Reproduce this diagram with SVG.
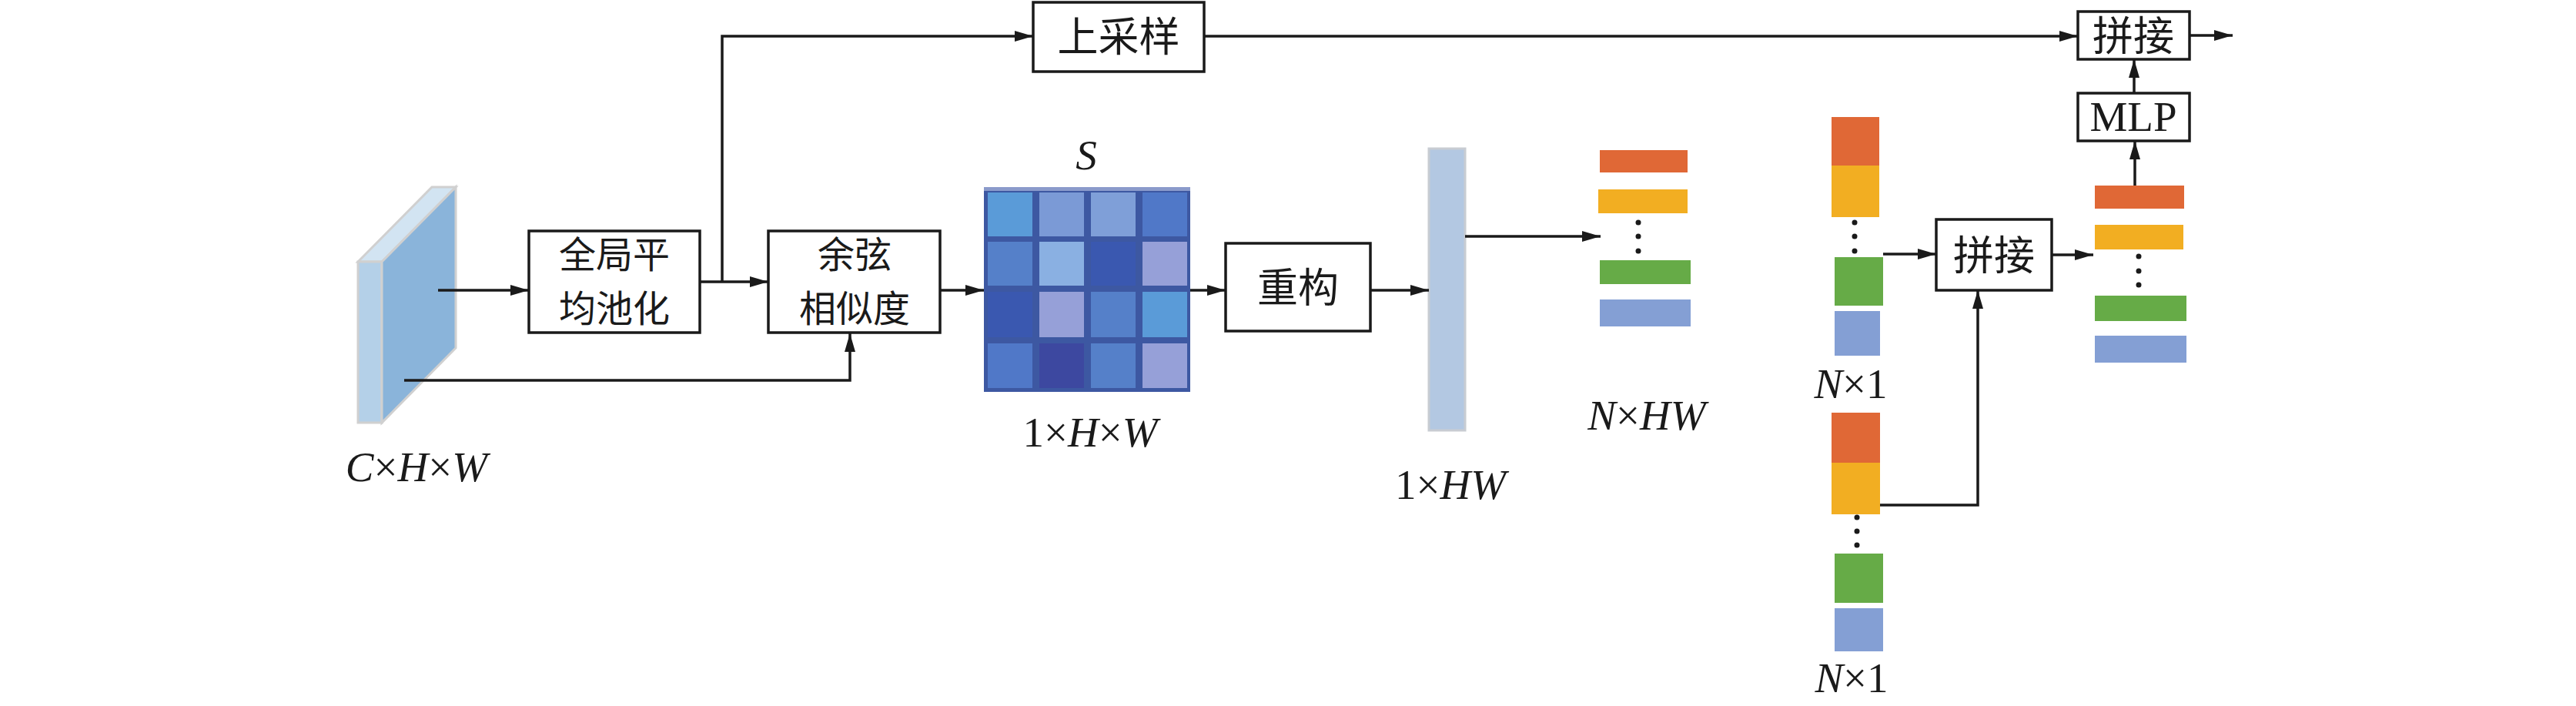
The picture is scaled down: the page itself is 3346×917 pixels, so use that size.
<svg xmlns="http://www.w3.org/2000/svg" width="3346" height="917" viewBox="0 0 3346 917">
<defs>
<marker id="ah" markerUnits="userSpaceOnUse" markerWidth="24" markerHeight="14" refX="24" refY="7" orient="auto"><path d="M0,0 L24,7 L0,14 z" fill="#1a1a1a"/></marker>
<style>
.box{fill:#fff;stroke:#1a1a1a;stroke-width:3.5}
.zh{font-family:"Noto Sans CJK SC",sans-serif;font-size:53px;fill:#1a1a1a;text-anchor:middle}
.zh2{font-family:"Noto Sans CJK SC",sans-serif;font-size:48px;fill:#1a1a1a;text-anchor:middle}
.lt{font-family:"Liberation Serif",serif;font-size:55px;fill:#1a1a1a;text-anchor:middle}
.it{font-style:italic}
.arr{fill:none;stroke:#1a1a1a;stroke-width:3.5;marker-end:url(#ah)}
.o{fill:#e06836}.y{fill:#f2ae22}.g{fill:#66ab47}.b{fill:#849fd4}
.dot{fill:#1a1a1a}
</style>
</defs>
<rect width="3346" height="917" fill="#fff"/>

<g id="feature-map">
<polygon points="465,340 561,243 592,243 496,340" fill="#d2e4f2" stroke="#d0d0d0" stroke-width="3"/>
<rect x="465" y="340" width="31" height="209" fill="#b4d0e8" stroke="#d0d0d0" stroke-width="3"/>
<polygon points="496,340 592,243 592,452 496,549" fill="#8ab4da" stroke="#d0d0d0" stroke-width="3"/>
<text class="lt" x="541" y="625"><tspan class="it">C</tspan>×<tspan class="it">H</tspan>×<tspan class="it">W</tspan></text>
</g>

<g id="gap">
<rect class="box" x="687" y="300" width="222" height="132"/>
<text class="zh2" x="798" y="348">全局平</text>
<text class="zh2" x="798" y="418">均池化</text>
</g>

<g id="cosine">
<rect class="box" x="998" y="300" width="223" height="132"/>
<text class="zh2" x="1110" y="348">余弦</text>
<text class="zh2" x="1110" y="418">相似度</text>
</g>

<g id="upsample">
<rect class="box" x="1342" y="3" width="222" height="90"/>
<text class="zh" x="1453" y="67">上采样</text>
</g>

<g id="matrix-s">
<text class="lt it" x="1411" y="220">S</text>
<rect x="1278" y="243" width="268" height="266" fill="#3d58a2"/>
<rect x="1278" y="243" width="268" height="5" fill="#8a9acb"/>
<rect x="1283" y="250" width="58" height="57" fill="#5a9bd8"/>
<rect x="1350" y="250" width="58" height="57" fill="#7b9ad6"/>
<rect x="1417" y="250" width="58" height="57" fill="#7f9fd8"/>
<rect x="1484" y="250" width="58" height="57" fill="#5078c8"/>
<rect x="1283" y="314" width="58" height="57" fill="#5580c9"/>
<rect x="1350" y="314" width="58" height="57" fill="#8ab0e2"/>
<rect x="1417" y="314" width="58" height="57" fill="#3a58b0"/>
<rect x="1484" y="314" width="58" height="57" fill="#96a0d8"/>
<rect x="1283" y="379" width="58" height="59" fill="#3a58b0"/>
<rect x="1350" y="379" width="58" height="59" fill="#96a0d8"/>
<rect x="1417" y="379" width="58" height="59" fill="#5580c9"/>
<rect x="1484" y="379" width="58" height="59" fill="#5a9bd8"/>
<rect x="1283" y="446" width="58" height="58" fill="#5078c8"/>
<rect x="1350" y="446" width="58" height="58" fill="#3d48a0"/>
<rect x="1417" y="446" width="58" height="58" fill="#5580c9"/>
<rect x="1484" y="446" width="58" height="58" fill="#96a0d8"/>
<text class="lt" x="1416" y="580">1×<tspan class="it">H</tspan>×<tspan class="it">W</tspan></text>
</g>

<g id="reshape">
<rect class="box" x="1592" y="316" width="188" height="114"/>
<text class="zh" x="1686" y="393">重构</text>
</g>

<g id="vector-1xhw">
<rect x="1856" y="193" width="47" height="366" fill="#b3c8e2" stroke="#c8ccd2" stroke-width="3"/>
<text class="lt" x="1884" y="648">1×<tspan class="it">HW</tspan></text>
</g>

<g id="stack-nxhw">
<rect class="o" x="2078" y="195" width="114" height="29"/>
<rect class="y" x="2076" y="246" width="116" height="31"/>
<circle class="dot" cx="2128" cy="289" r="3.5"/>
<circle class="dot" cx="2128" cy="307" r="3.5"/>
<circle class="dot" cx="2128" cy="326" r="3.5"/>
<rect class="g" x="2078" y="338" width="118" height="31"/>
<rect class="b" x="2078" y="389" width="118" height="35"/>
<text class="lt" x="2139" y="558"><tspan class="it">N</tspan>×<tspan class="it">HW</tspan></text>
</g>

<g id="stack-nx1-a">
<rect class="o" x="2379" y="152" width="62" height="63"/>
<rect class="y" x="2379" y="215" width="62" height="67"/>
<circle class="dot" cx="2409" cy="289" r="3.5"/>
<circle class="dot" cx="2409" cy="307" r="3.5"/>
<circle class="dot" cx="2409" cy="326" r="3.5"/>
<rect class="g" x="2383" y="334" width="63" height="63"/>
<rect class="b" x="2383" y="404" width="59" height="58"/>
<text class="lt" x="2404" y="517"><tspan class="it">N</tspan>×1</text>
</g>

<g id="stack-nx1-b">
<rect class="o" x="2379" y="536" width="63" height="65"/>
<rect class="y" x="2379" y="601" width="63" height="67"/>
<circle class="dot" cx="2412" cy="672" r="3.5"/>
<circle class="dot" cx="2412" cy="690" r="3.5"/>
<circle class="dot" cx="2412" cy="708" r="3.5"/>
<rect class="g" x="2383" y="719" width="63" height="64"/>
<rect class="b" x="2383" y="790" width="63" height="56"/>
<text class="lt" x="2405" y="899"><tspan class="it">N</tspan>×1</text>
</g>

<g id="concat-mid">
<rect class="box" x="2515" y="285" width="150" height="92"/>
<text class="zh" x="2590" y="351">拼接</text>
</g>

<g id="stack-out">
<rect class="o" x="2721" y="241" width="116" height="30"/>
<rect class="y" x="2721" y="292" width="115" height="32"/>
<circle class="dot" cx="2778" cy="333" r="3.5"/>
<circle class="dot" cx="2778" cy="352" r="3.5"/>
<circle class="dot" cx="2778" cy="370" r="3.5"/>
<rect class="g" x="2721" y="384" width="119" height="33"/>
<rect class="b" x="2721" y="436" width="119" height="35"/>
</g>

<g id="mlp">
<rect class="box" x="2699" y="121" width="145" height="62"/>
<text class="lt" x="2771" y="170">MLP</text>
</g>

<g id="concat-top">
<rect class="box" x="2699" y="15" width="145" height="62"/>
<text class="zh" x="2771" y="66">拼接</text>
</g>

<g id="connectors">
<line class="arr" x1="569" y1="377" x2="687" y2="377"/>
<line class="arr" x1="909" y1="366" x2="998" y2="366"/>
<polyline class="arr" points="525,494 1104,494 1104,433"/>
<polyline class="arr" points="938,366 938,47 1342,47"/>
<line class="arr" x1="1564" y1="47" x2="2699" y2="47"/>
<line class="arr" x1="1221" y1="377" x2="1278" y2="377"/>
<line class="arr" x1="1546" y1="377" x2="1592" y2="377"/>
<line class="arr" x1="1780" y1="377" x2="1856" y2="377"/>
<line class="arr" x1="1903" y1="307" x2="2079" y2="307"/>
<line class="arr" x1="2446" y1="330" x2="2515" y2="330"/>
<line class="arr" x1="2665" y1="331" x2="2719" y2="331"/>
<polyline class="arr" points="2442,656 2569,656 2569,377"/>
<line class="arr" x1="2773" y1="241" x2="2773" y2="183"/>
<line class="arr" x1="2772" y1="121" x2="2772" y2="77"/>
<line class="arr" x1="2844" y1="46" x2="2900" y2="46"/>
</g>
</svg>
